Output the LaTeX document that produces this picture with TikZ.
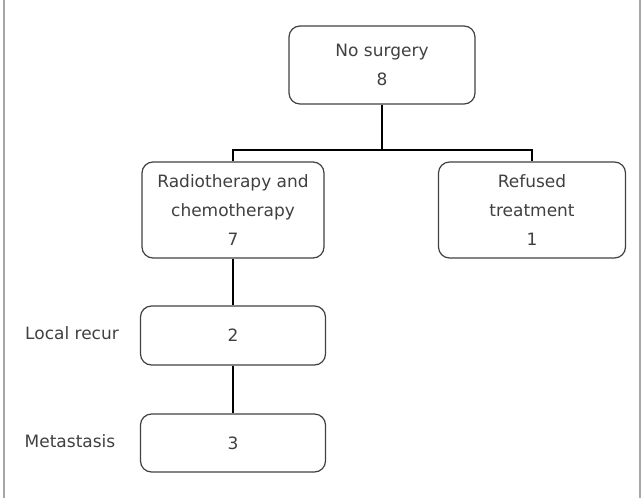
\documentclass[tikz,border=0pt]{standalone}
\usepackage{fontspec}
\setmainfont{DejaVu Sans}
\usetikzlibrary{positioning}

\tikzset{
  box/.style={draw=black!75, line width=1.2pt, rounded corners=11pt, align=center,
    text=black!75, inner sep=0pt},
  conn/.style={draw=black, line width=2pt},
  side/.style={text=black!75, inner sep=0pt}
}

\begin{document}
\begin{tikzpicture}[x=1pt, y=-1pt, font=\fontsize{17}{29}\selectfont]
  \useasboundingbox (0,0) rectangle (644,498);

  % Frame
  \draw[gray!70, line width=2pt] (4,0) -- (4,498);
  \draw[gray!70, line width=2pt] (640,0) -- (640,498);

  % Boxes
  \node[box, minimum width=186pt, minimum height=78pt] (nosurg) at (382,65) {No surgery\\8};
  \node[box, minimum width=182pt, minimum height=96pt] (radio) at (233,210) {Radiotherapy and\\chemotherapy\\7};
  \node[box, minimum width=187pt, minimum height=96pt] (refused) at (532,210) {Refused\\treatment\\1};
  \node[box, minimum width=185pt, minimum height=59pt] (recur) at (233,335.5) {2};
  \node[box, minimum width=185pt, minimum height=58pt] (meta) at (233,443) {3};

  % Labels
  \node[side] (recurlbl) at (72,333) {Local recur};
  \node[side] (metalbl) at (70,441) {Metastasis};

  % Connectors
  \coordinate (split) at (382,150);
  \draw[conn] (nosurg.south) -- (split);
  \draw[conn] (radio.north) |- (split) -| (refused.north);
  \draw[conn] (radio.south) -- (recur.north);
  \draw[conn] (recur.south) -- (meta.north);
\end{tikzpicture}
\end{document}
